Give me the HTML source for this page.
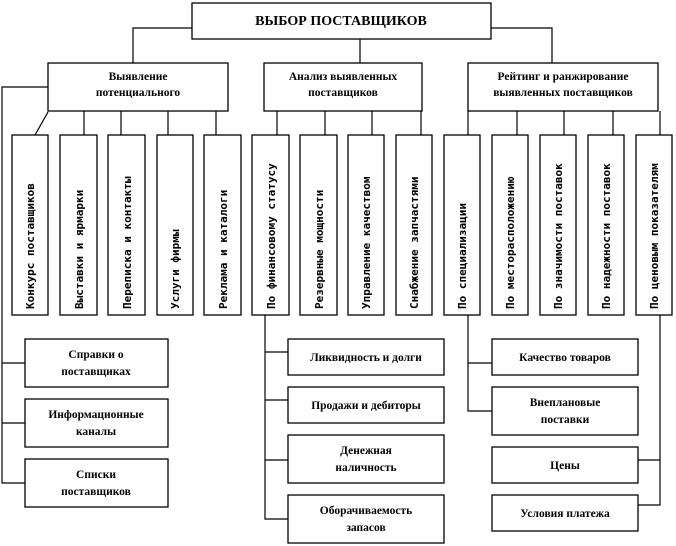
<!DOCTYPE html>
<html><head><meta charset="utf-8"><style>
html,body{margin:0;padding:0;background:#fff;}
svg{display:block;}
.b{fill:#fff;stroke:#000;stroke-width:1.3;}
.l{stroke:#000;stroke-width:1.2;fill:none;}
.t{font-family:"Liberation Serif",serif;font-weight:bold;font-size:11.5px;text-anchor:middle;}
.v{font-family:"DejaVu Sans Mono","Liberation Mono",monospace;font-size:11px;font-weight:600;}
</style></head><body>
<svg width="676" height="546" viewBox="0 0 676 546" xmlns="http://www.w3.org/2000/svg">
<path class="l" d="M192 28H133V63 M491 28H552V63 M360 39V63"/>
<rect class="b" x="192" y="3" width="299" height="36"/>
<text class="t" x="341" y="25" style="font-size:14px">ВЫБОР ПОСТАВЩИКОВ</text>
<rect class="b" x="48" y="63" width="180" height="48"/>
<text class="t" x="138" y="80">Выявление</text>
<text class="t" x="138" y="96">потенциального</text>
<rect class="b" x="264" y="63" width="158" height="48"/>
<text class="t" x="343" y="80">Анализ выявленных</text>
<text class="t" x="343" y="96">поставщиков</text>
<rect class="b" x="468" y="63" width="190" height="48"/>
<text class="t" x="563" y="80">Рейтинг и ранжирование</text>
<text class="t" x="563" y="96">выявленных поставщиков</text>
<path class="l" d="M48 112L35 135 M84 111V135 M121 111V135 M168 111V135 M216 111V135 M277 111V135 M325 111V135 M372 111V135 M421 111V135 M468 111V135 M517 111V135 M564 111V135 M613 111V135 M660 111V135"/>
<path class="l" d="M48 87H2V483H25 M2 363H25 M2 423H25"/>
<g>
<rect class="b" x="12" y="135" width="36" height="180"/>
<rect class="b" x="60" y="135" width="37" height="180"/>
<rect class="b" x="108" y="135" width="37" height="180"/>
<rect class="b" x="157" y="135" width="36" height="180"/>
<rect class="b" x="204" y="135" width="37" height="180"/>
<rect class="b" x="252" y="135" width="37" height="180"/>
<rect class="b" x="300" y="135" width="37" height="180"/>
<rect class="b" x="348" y="135" width="36" height="180"/>
<rect class="b" x="396" y="135" width="36" height="180"/>
<rect class="b" x="444" y="135" width="36" height="180"/>
<rect class="b" x="492" y="135" width="36" height="180"/>
<rect class="b" x="540" y="135" width="36" height="180"/>
<rect class="b" x="588" y="135" width="36" height="180"/>
<rect class="b" x="636" y="135" width="36" height="180"/>
</g>
<g class="v">
<text transform="translate(34,309) rotate(-90)">Конкурс поставщиков</text>
<text transform="translate(83,309) rotate(-90)">Выставки и ярмарки</text>
<text transform="translate(131,309) rotate(-90)">Переписка и контакты</text>
<text transform="translate(179,309) rotate(-90)">Услуги фирмы</text>
<text transform="translate(227,309) rotate(-90)">Реклама и каталоги</text>
<text transform="translate(275,309) rotate(-90)">По финансовому статусу</text>
<text transform="translate(323,309) rotate(-90)">Резервные мощности</text>
<text transform="translate(370,309) rotate(-90)">Управление качеством</text>
<text transform="translate(418,309) rotate(-90)">Снабжение запчастями</text>
<text transform="translate(466,309) rotate(-90)">По специализации</text>
<text transform="translate(514,309) rotate(-90)">По месторасположению</text>
<text transform="translate(562,309) rotate(-90)">По значимости поставок</text>
<text transform="translate(610,309) rotate(-90)">По надежности поставок</text>
<text transform="translate(658,309) rotate(-90)">По ценовым показателям</text>
</g>
<path class="l" d="M265 315V519H288 M265 352H288 M265 400H288 M265 460H288"/>
<path class="l" d="M468 315V411H492 M468 363H492"/>
<path class="l" d="M660 315V505H638 M660 460H638"/>
<rect class="b" x="25" y="339" width="143" height="48"/>
<text class="t" x="96" y="358">Справки о</text>
<text class="t" x="96" y="375">поставщиках</text>
<rect class="b" x="25" y="399" width="143" height="48"/>
<text class="t" x="96" y="418">Информационные</text>
<text class="t" x="96" y="435">каналы</text>
<rect class="b" x="25" y="459" width="143" height="48"/>
<text class="t" x="96" y="478">Списки</text>
<text class="t" x="96" y="495">поставщиков</text>
<rect class="b" x="288" y="339" width="156" height="36"/>
<text class="t" x="366" y="361">Ликвидность и долги</text>
<rect class="b" x="288" y="387" width="156" height="36"/>
<text class="t" x="366" y="409">Продажи и дебиторы</text>
<rect class="b" x="288" y="435" width="156" height="48"/>
<text class="t" x="366" y="454">Денежная</text>
<text class="t" x="366" y="471">наличность</text>
<rect class="b" x="288" y="495" width="156" height="48"/>
<text class="t" x="366" y="514">Оборачиваемость</text>
<text class="t" x="366" y="531">запасов</text>
<rect class="b" x="492" y="339" width="146" height="36"/>
<text class="t" x="565" y="361">Качество товаров</text>
<rect class="b" x="492" y="387" width="146" height="48"/>
<text class="t" x="565" y="406">Внеплановые</text>
<text class="t" x="565" y="423">поставки</text>
<rect class="b" x="492" y="447" width="146" height="36"/>
<text class="t" x="565" y="469">Цены</text>
<rect class="b" x="492" y="495" width="146" height="36"/>
<text class="t" x="565" y="517">Условия платежа</text>
</svg>
</body></html>
